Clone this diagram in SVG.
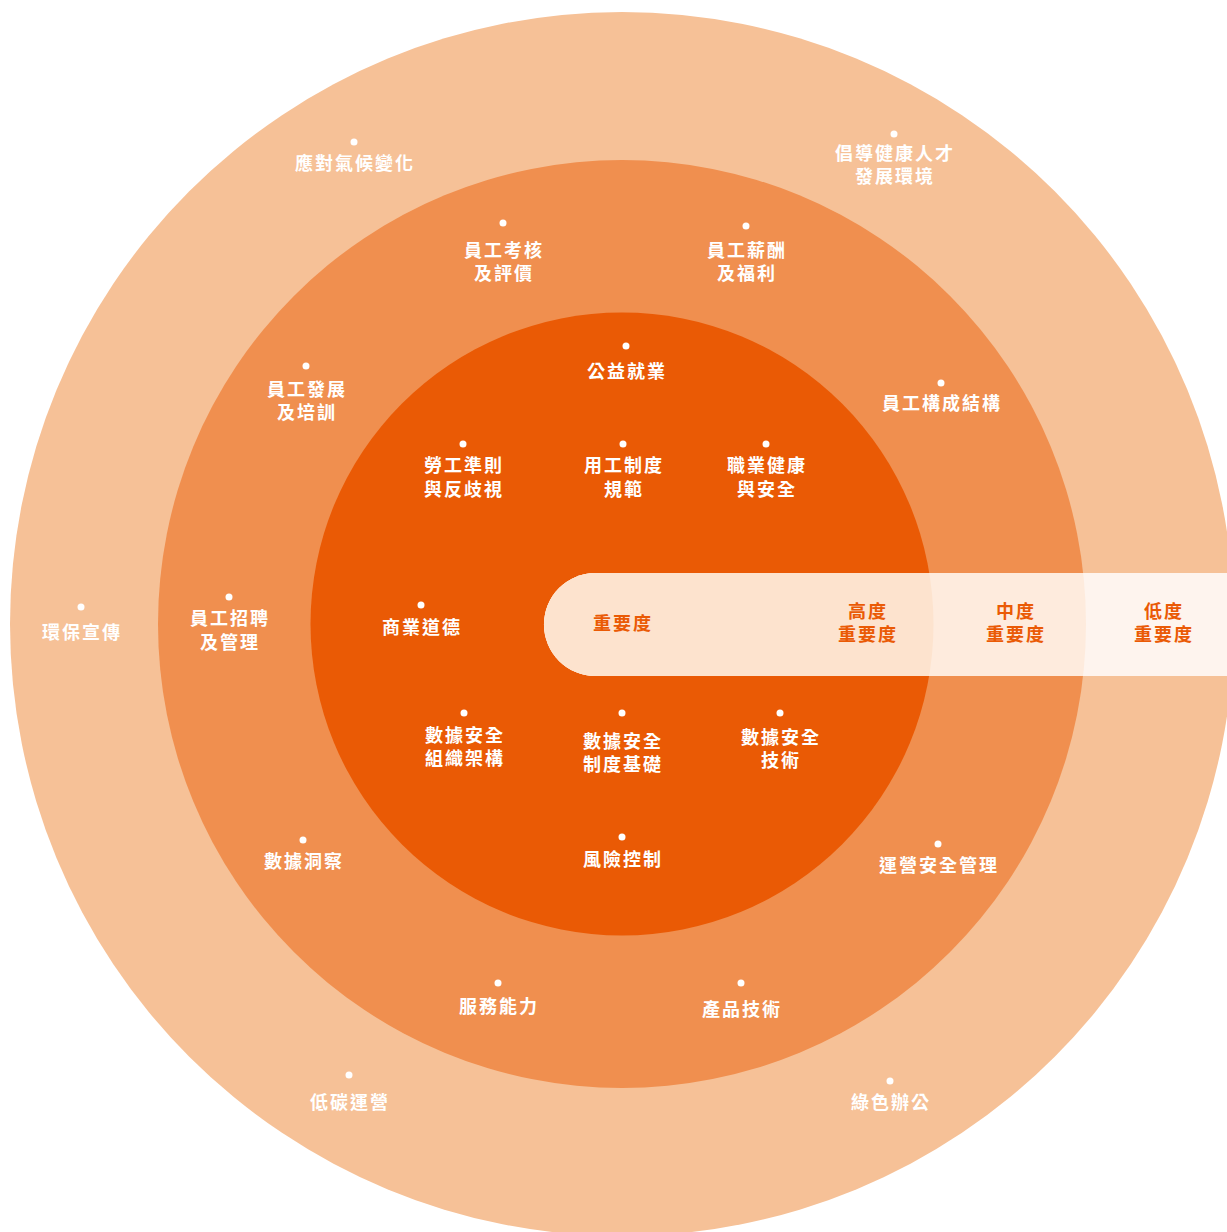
<svg xmlns="http://www.w3.org/2000/svg" width="1227" height="1232" viewBox="0 0 1227 1232">
<style>
.t{font-family:"Noto Sans CJK TC","Noto Sans CJK SC",sans-serif;font-size:18px;font-weight:700;letter-spacing:2px;text-anchor:middle;fill:#ffffff}
.b{fill:#EA5A05}
.d{fill:#ffffff}
</style>
<defs>
<clipPath id="cMid"><circle cx="622" cy="624" r="464"/></clipPath>
<clipPath id="cIn"><circle cx="622" cy="624" r="311.5"/></clipPath>
<rect id="band" x="544" y="573" width="800" height="103" rx="51.5" ry="51.5"/>
</defs>
<rect width="1227" height="1232" fill="#ffffff"/>
<g id="rings">
<circle cx="622" cy="624" r="612" fill="#F6C197"/>
<circle cx="622" cy="624" r="464" fill="#F08F4F"/>
<circle cx="622" cy="624" r="311.5" fill="#EA5A05"/>
</g>
<g id="legend-band">
<use href="#band" fill="#FEF4EE"/>
<use href="#band" fill="#FEEBDD" clip-path="url(#cMid)"/>
<use href="#band" fill="#FDE3CE" clip-path="url(#cIn)"/>
<text class="t b" x="623" y="630">重要度</text>
<text class="t b" x="868" y="618">高度<tspan x="868" dy="23">重要度</tspan></text>
<text class="t b" x="1016" y="618">中度<tspan x="1016" dy="23">重要度</tspan></text>
<text class="t b" x="1164" y="618">低度<tspan x="1164" dy="23">重要度</tspan></text>
</g>
<g id="n-climate"><circle class="d" cx="354" cy="142" r="3.5"/><text class="t" x="355" y="170">應對氣候變化</text></g>
<g id="n-talent"><circle class="d" cx="894" cy="134" r="3.5"/><text class="t" x="895" y="160">倡導健康人才<tspan x="895" dy="23">發展環境</tspan></text></g>
<g id="n-appraisal"><circle class="d" cx="503" cy="223" r="3.5"/><text class="t" x="504" y="257">員工考核<tspan x="504" dy="23">及評價</tspan></text></g>
<g id="n-salary"><circle class="d" cx="746" cy="226" r="3.5"/><text class="t" x="747" y="257">員工薪酬<tspan x="747" dy="23">及福利</tspan></text></g>
<g id="n-welfare"><circle class="d" cx="626" cy="346" r="3.5"/><text class="t" x="627" y="378">公益就業</text></g>
<g id="n-training"><circle class="d" cx="306" cy="366" r="3.5"/><text class="t" x="307" y="396">員工發展<tspan x="307" dy="23">及培訓</tspan></text></g>
<g id="n-structure"><circle class="d" cx="941" cy="383" r="3.5"/><text class="t" x="942" y="410">員工構成結構</text></g>
<g id="n-labour"><circle class="d" cx="463" cy="444" r="3.5"/><text class="t" x="464" y="472">勞工準則<tspan x="464" dy="24">與反歧視</tspan></text></g>
<g id="n-employment"><circle class="d" cx="623" cy="444" r="3.5"/><text class="t" x="624" y="472">用工制度<tspan x="624" dy="24">規範</tspan></text></g>
<g id="n-health"><circle class="d" cx="766" cy="444" r="3.5"/><text class="t" x="767" y="472">職業健康<tspan x="767" dy="24">與安全</tspan></text></g>
<g id="n-recruit"><circle class="d" cx="229" cy="597" r="3.5"/><text class="t" x="230" y="625">員工招聘<tspan x="230" dy="24">及管理</tspan></text></g>
<g id="n-eco"><circle class="d" cx="81" cy="607" r="3.5"/><text class="t" x="82" y="639">環保宣傳</text></g>
<g id="n-ethics"><circle class="d" cx="421" cy="605" r="3.5"/><text class="t" x="422" y="634">商業道德</text></g>
<g id="n-dsorg"><circle class="d" cx="464" cy="713" r="3.5"/><text class="t" x="465" y="742">數據安全<tspan x="465" dy="23">組織架構</tspan></text></g>
<g id="n-dsbase"><circle class="d" cx="622" cy="713" r="3.5"/><text class="t" x="623" y="748">數據安全<tspan x="623" dy="23">制度基礎</tspan></text></g>
<g id="n-dstech"><circle class="d" cx="780" cy="713" r="3.5"/><text class="t" x="781" y="744">數據安全<tspan x="781" dy="23">技術</tspan></text></g>
<g id="n-risk"><circle class="d" cx="622" cy="837" r="3.5"/><text class="t" x="623" y="866">風險控制</text></g>
<g id="n-insight"><circle class="d" cx="303" cy="840" r="3.5"/><text class="t" x="304" y="868">數據洞察</text></g>
<g id="n-opsec"><circle class="d" cx="938" cy="844" r="3.5"/><text class="t" x="939" y="872">運營安全管理</text></g>
<g id="n-service"><circle class="d" cx="498" cy="983" r="3.5"/><text class="t" x="499" y="1013">服務能力</text></g>
<g id="n-product"><circle class="d" cx="741" cy="983" r="3.5"/><text class="t" x="742" y="1016">產品技術</text></g>
<g id="n-lowcarbon"><circle class="d" cx="349" cy="1075" r="3.5"/><text class="t" x="350" y="1109">低碳運營</text></g>
<g id="n-greenoffice"><circle class="d" cx="890" cy="1081" r="3.5"/><text class="t" x="891" y="1109">綠色辦公</text></g>
</svg>
